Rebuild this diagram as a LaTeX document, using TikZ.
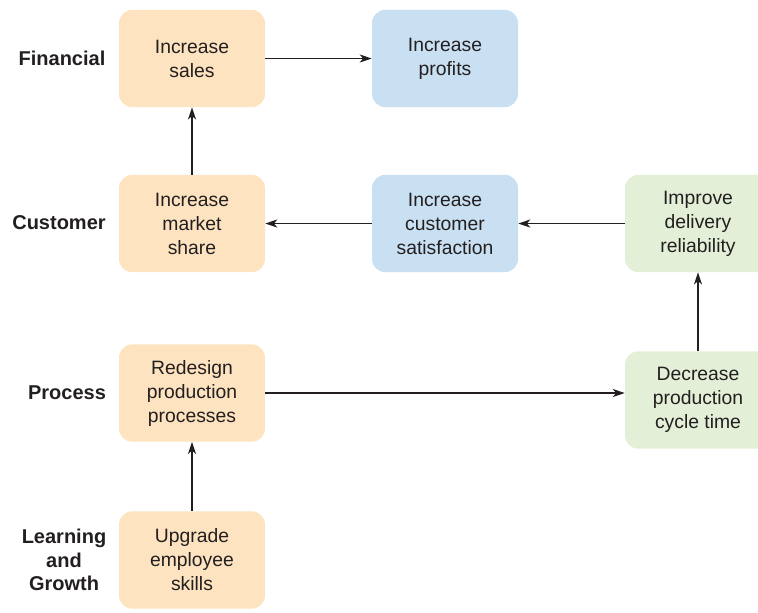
\documentclass[tikz,border=0pt]{standalone}
\usepackage{fontspec}
\setmainfont{Liberation Sans}
\usepackage{tikz}
\usetikzlibrary{arrows.meta,positioning,calc}
\usepackage{xcolor}
\definecolor{salesorange}{HTML}{FDE3C0}
\definecolor{profitblue}{HTML}{C9E0F3}
\definecolor{opgreen}{HTML}{E3EFD6}
\definecolor{inkgray}{HTML}{231F20}

\begin{document}
\begin{tikzpicture}[x=0.75pt, y=-0.75pt,
    goal/.style={rounded corners=10pt, minimum width=109.5pt, minimum height=73pt, inner sep=0pt, align=center, text=inkgray, font=\fontsize{14.5}{18}\selectfont},
    persp/.style={align=center, text=inkgray, font=\fontsize{15}{17.5}\selectfont\bfseries},
    flowarrow/.style={-{Stealth[length=9pt, width=6pt, inset=2.5pt]}, line width=0.9pt, inkgray}
]
    \useasboundingbox (0,0) rectangle (758,612);
    \clip (0,0) rectangle (758,612);

    % Perspectives
    \node[persp] (fin) at (62,58) {Financial};
    \node[persp] (cust) at (59,223) {Customer};
    \node[persp] (proc) at (67,393) {Process};
    \node[persp] (learn) at (64,560) {Learning\\and\\Growth};

    % Financial row
    \node[goal, fill=salesorange] (sales) at (192,58.5) {Increase\\sales};
    \node[goal, fill=profitblue] (profits) at (445,58.5) {Increase\\profits};

    % Customer row
    \node[goal, fill=salesorange] (market) at (192,223.5) {Increase\\market\\share};
    \node[goal, fill=profitblue] (satisf) at (445,223.5) {Increase\\customer\\satisfaction};
    \node[goal, fill=opgreen] (reliab) at (698,223.5) {Improve\\delivery\\reliability};

    % Process row
    \node[goal, fill=salesorange] (redesign) at (192,393) {Redesign\\production\\processes};
    \node[goal, fill=opgreen] (cycle) at (698,400) {Decrease\\production\\cycle time};

    % Learning and growth row
    \node[goal, fill=salesorange] (upgrade) at (192,560) {Upgrade\\employee\\skills};

    % Arrows
    \draw[flowarrow] (sales) -- (profits);
    \draw[flowarrow] (market) -- (sales);
    \draw[flowarrow] (satisf) -- (market);
    \draw[flowarrow] (reliab) -- (satisf);
    \draw[flowarrow] (cycle) -- (reliab);
    \draw[flowarrow] (redesign.east) -- (redesign.east -| cycle.west);
    \draw[flowarrow] (upgrade) -- (redesign);
\end{tikzpicture}
\end{document}
